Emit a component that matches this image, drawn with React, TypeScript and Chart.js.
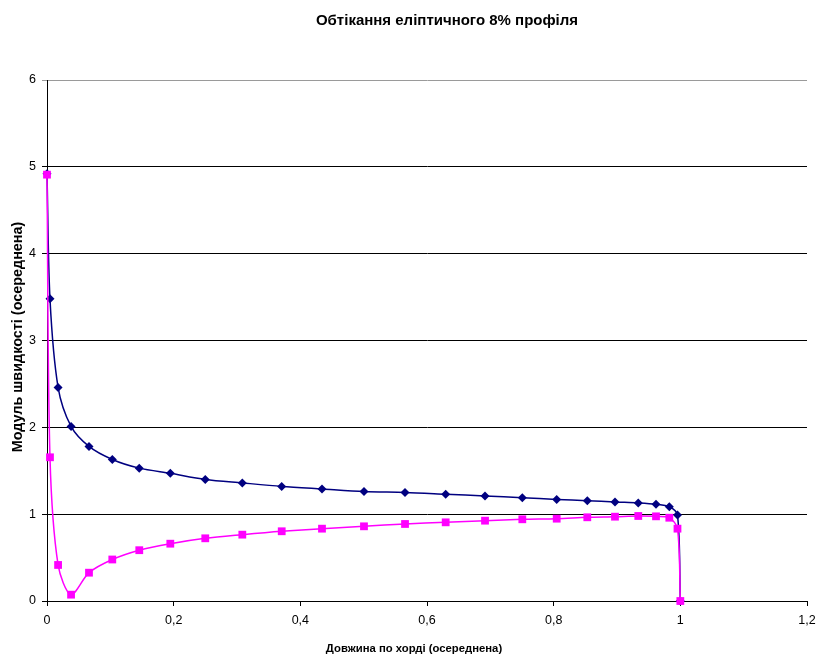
import React, { useEffect, useRef } from "react";
import { Chart, registerables } from "chart.js";

Chart.register(...registerables);

const chartTitle = "Обтікання еліптичного 8% профіля";
const xAxisTitle = "Довжина по хорді (осереднена)";
const yAxisTitle = "Модуль швидкості (осереднена)";

const chord = [
  0, 0.0047, 0.0175, 0.038, 0.0663, 0.1031, 0.1457, 0.1947, 0.2499, 0.3084,
  0.3706, 0.4342, 0.5005, 0.5653, 0.6295, 0.6916, 0.7505, 0.8048, 0.8531,
  0.8968, 0.9336, 0.9616, 0.9826, 0.9955, 1.0,
];

const upperSpeed = [
  4.92, 3.48, 2.46, 2.01, 1.78, 1.63, 1.53, 1.47, 1.4, 1.36, 1.32, 1.29, 1.26,
  1.25, 1.23, 1.21, 1.19, 1.17, 1.155, 1.14, 1.13, 1.115, 1.085, 0.99, 0,
];

const lowerSpeed = [
  4.91, 1.655, 0.415, 0.073, 0.326, 0.478, 0.585, 0.66, 0.722, 0.764, 0.803,
  0.833, 0.86, 0.887, 0.906, 0.925, 0.941, 0.948, 0.964, 0.971, 0.979, 0.975,
  0.959, 0.833, 0,
];

const FONT = '"Liberation Sans", Arial, sans-serif';

const fmt = (v: number) => String(Math.round(v * 10) / 10).replace(".", ",");

const titlesPlugin = {
  id: "customTitles",
  afterDraw(chart: any) {
    const ctx = chart.ctx;
    ctx.save();
    ctx.fillStyle = "#000";
    ctx.textAlign = "center";
    ctx.textBaseline = "middle";
    ctx.font = `bold 15px ${FONT}`;
    ctx.fillText(chartTitle, 447, 21);
    ctx.font = `bold 11.3px ${FONT}`;
    ctx.fillText(xAxisTitle, 414, 649);
    ctx.translate(18, 337);
    ctx.rotate(-Math.PI / 2);
    ctx.font = `bold 14.4px ${FONT}`;
    ctx.fillText(yAxisTitle, 0, 0);
    ctx.restore();
  },
};

export default function App() {
  const ref = useRef<HTMLCanvasElement | null>(null);

  useEffect(() => {
    if (!ref.current) return;
    const toPts = (ys: number[]) => chord.map((x, i) => ({ x, y: ys[i] }));
    const chart = new Chart(ref.current, {
      type: "line",
      data: {
        datasets: [
          {
            label: "lower",
            data: toPts(lowerSpeed),
            borderColor: "#FF00FF",
            backgroundColor: "#FF00FF",
            borderWidth: 1.5,
            pointStyle: "rect",
            pointRadius: 5.5,
            pointBorderWidth: 0,
            tension: 0.3,
            clip: false,
          },
          {
            label: "upper",
            data: toPts(upperSpeed),
            borderColor: "#000080",
            backgroundColor: "#000080",
            borderWidth: 1.5,
            pointStyle: "rectRot",
            pointRadius: 4.5,
            pointBorderWidth: 0,
            tension: 0.3,
            clip: false,
          },
        ],
      },
      options: {
        responsive: false,
        animation: false,
        layout: { padding: { top: 80, left: 0, right: 10, bottom: 0 } },
        plugins: {
          legend: { display: false },
          title: { display: false },
          tooltip: { enabled: false },
        },
        scales: {
          x: {
            type: "linear",
            min: 0,
            max: 1.2,
            ticks: {
              stepSize: 0.2,
              color: "#000",
              font: { family: FONT, size: 12.5 },
              padding: 7,
              maxRotation: 0,
              callback: (v: any) => fmt(Number(v)),
            },
            grid: {
              drawOnChartArea: false,
              drawTicks: true,
              tickLength: 5,
              color: "#000",
            },
            border: { color: "#000", width: 1 },
            afterFit: (s: any) => {
              s.height = 56;
              s.paddingLeft = 0;
              s.paddingRight = 0;
            },
          },
          y: {
            type: "linear",
            min: 0,
            max: 6,
            ticks: {
              stepSize: 1,
              color: "#000",
              font: { family: FONT, size: 12.5 },
              padding: 6,
              callback: (v: any) => fmt(Number(v)),
            },
            grid: {
              drawOnChartArea: true,
              drawTicks: true,
              tickLength: 5,
              color: (c: any) => (c.tick && c.tick.value === 6 ? "#9a9a9a" : "#000"),
            },
            border: { color: "#000", width: 1 },
            afterFit: (s: any) => {
              s.width = 47;
              s.paddingTop = 0;
              s.paddingBottom = 0;
            },
          },
        },
      },
      plugins: [titlesPlugin],
    });
    return () => chart.destroy();
  }, []);

  return (
    <div style={{ position: "absolute", left: 0, top: 0, width: 817, height: 657, background: "#fff" }}>
      <canvas ref={ref} width={817} height={657} />
    </div>
  );
}
